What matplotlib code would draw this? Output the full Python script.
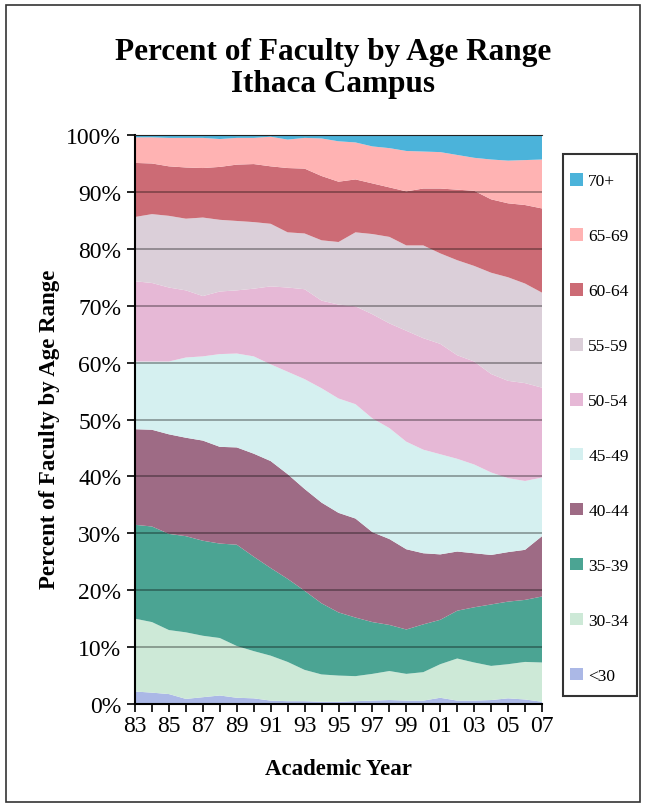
import matplotlib.pyplot as plt
from matplotlib.patches import Rectangle

years = list(range(1983, 2008))

age_groups = ['<30', '30-34', '35-39', '40-44', '45-49', '50-54', '55-59', '60-64', '65-69', '70+']
colors = ['#abb8e6', '#cde9d7', '#4ba493', '#9e6b85', '#d5f0f0',
          '#e6b8d6', '#dbcfd9', '#cc6b75', '#ffb3b3', '#4bb3da']

under_30 = [2.2, 2.0, 1.75, 0.9, 1.2, 1.5, 1.1, 1.0, 0.6, 0.5, 0.5, 0.4, 0.4,
            0.5, 0.6, 0.7, 0.6, 0.6, 1.1, 0.6, 0.6, 0.7, 1.0, 0.8, 0.4]
age_30_34 = [12.8, 12.4, 11.25, 11.7, 10.8, 10.1, 9.1, 8.3, 7.9, 6.9, 5.5, 4.8, 4.6,
             4.4, 4.7, 5.1, 4.7, 5.0, 5.9, 7.4, 6.7, 6.0, 6.0, 6.6, 6.9]
age_35_39 = [16.5, 16.8, 16.9, 16.9, 16.7, 16.6, 17.8, 16.6, 15.4, 14.6, 13.9, 12.5, 11.1,
             10.3, 9.1, 8.1, 7.8, 8.4, 7.8, 8.4, 9.7, 10.8, 11.0, 10.9, 11.6]
age_40_44 = [16.8, 17.0, 17.5, 17.3, 17.6, 17.0, 17.1, 18.1, 18.8, 18.4, 17.9, 17.7, 17.5,
             17.4, 15.8, 15.1, 14.1, 12.5, 11.5, 10.4, 9.5, 8.7, 8.7, 8.8, 10.6]
age_45_49 = [11.9, 12.0, 12.8, 14.1, 14.8, 16.3, 16.5, 17.1, 17.0, 18.0, 19.3, 20.1, 20.1,
             20.1, 20.0, 19.5, 18.9, 18.2, 17.6, 16.3, 15.6, 14.5, 13.0, 12.1, 10.3]
age_50_54 = [14.1, 13.8, 13.0, 11.8, 10.6, 11.0, 11.1, 11.9, 13.7, 14.8, 15.8, 15.4, 16.5,
             17.2, 18.3, 18.4, 19.5, 19.6, 19.4, 18.2, 18.1, 17.3, 17.1, 17.2, 15.8]
age_55_59 = [11.3, 12.1, 12.6, 12.6, 13.8, 12.6, 12.2, 11.7, 11.0, 9.7, 9.8, 10.6, 11.0,
             13.0, 14.1, 15.2, 15.0, 16.3, 15.9, 16.7, 16.8, 17.8, 18.2, 17.5, 16.7]
age_60_64 = [9.5, 8.9, 8.7, 9.0, 8.7, 9.3, 9.9, 10.2, 10.1, 11.3, 11.4, 11.3, 10.6,
             9.3, 8.9, 8.7, 9.5, 10.0, 11.4, 12.4, 13.2, 12.9, 13.0, 13.8, 14.8]
age_65_69 = [4.5, 4.6, 5.0, 5.2, 5.3, 4.9, 4.7, 4.6, 5.2, 5.0, 5.4, 6.6, 7.1,
             6.5, 6.5, 6.9, 7.1, 6.5, 6.4, 6.1, 5.8, 7.0, 7.5, 7.9, 8.6]
over_70 = [0.4, 0.4, 0.5, 0.5, 0.5, 0.7, 0.5, 0.5, 0.3, 0.8, 0.5, 0.6, 1.1,
           1.3, 2.0, 2.3, 2.8, 2.9, 3.0, 3.5, 4.0, 4.3, 4.5, 4.4, 4.3]

series = [under_30, age_30_34, age_35_39, age_40_44, age_45_49,
          age_50_54, age_55_59, age_60_64, age_65_69, over_70]

plt.rcParams['font.family'] = ['Liberation Serif', 'DejaVu Serif']

fig = plt.figure(figsize=(6.47, 8.04), dpi=100)
ax = fig.add_axes([0.2087, 0.1231, 0.629, 0.7077])

ax.stackplot(years, *series, colors=colors, labels=age_groups, linewidth=0)

# dark semi-transparent gridlines drawn on top of the areas
for v in range(10, 110, 10):
    ax.axhline(v, color='black', alpha=0.35, lw=1.3, zorder=3)

ax.set_xlim(1983, 2007)
ax.set_ylim(0, 100)
ax.set_xticks(years)
ax.set_xticklabels([str(y)[2:] if (y - 1983) % 2 == 0 else '' for y in years], fontsize=17)
ax.set_yticks(range(0, 110, 10))
ax.set_yticklabels([f'{v}%' for v in range(0, 110, 10)], fontsize=17)
ax.tick_params(axis='both', direction='out', length=6, width=1.2, color='black')
ax.tick_params(axis='x', pad=2)
ax.tick_params(axis='y', pad=4)

ax.spines['right'].set_visible(False)
ax.spines['top'].set_color('#333333')
ax.spines['left'].set_linewidth(1.5)
ax.spines['bottom'].set_linewidth(1.5)

ax.set_ylabel('Percent of Faculty by Age Range', fontsize=16.5, fontweight='bold')
ax.yaxis.set_label_coords(-0.185, 0.485)
ax.set_xlabel('Academic Year', fontsize=16.5, fontweight='bold', labelpad=16)

fig.text(0.515, 0.915, 'Percent of Faculty by Age Range\nIthaca Campus',
         ha='center', va='center', fontsize=22.5, fontweight='bold', linespacing=1.15)

handles, labels = ax.get_legend_handles_labels()
leg = fig.legend(handles[::-1], labels[::-1], loc='upper left',
                 bbox_to_anchor=(570 / 647, 1 - 174 / 804), bbox_transform=fig.transFigure,
                 fontsize=12.5, frameon=False,
                 handlelength=0.75, handleheight=0.75, handletextpad=0.3,
                 labelspacing=2.22, borderpad=0, borderaxespad=0)

# legend box
fig.patches.append(Rectangle((563 / 647, 1 - 697 / 804), 74 / 647, 542 / 804,
                             transform=fig.transFigure, fill=False,
                             edgecolor='#333333', linewidth=1.5))

# outer border
fig.patches.append(Rectangle((6 / 647, 0.001), 634 / 647, 1 - 6 / 804 - 0.001,
                             transform=fig.transFigure, fill=False,
                             edgecolor='#333333', linewidth=1.2))

fig.savefig('out.png', dpi=100)
